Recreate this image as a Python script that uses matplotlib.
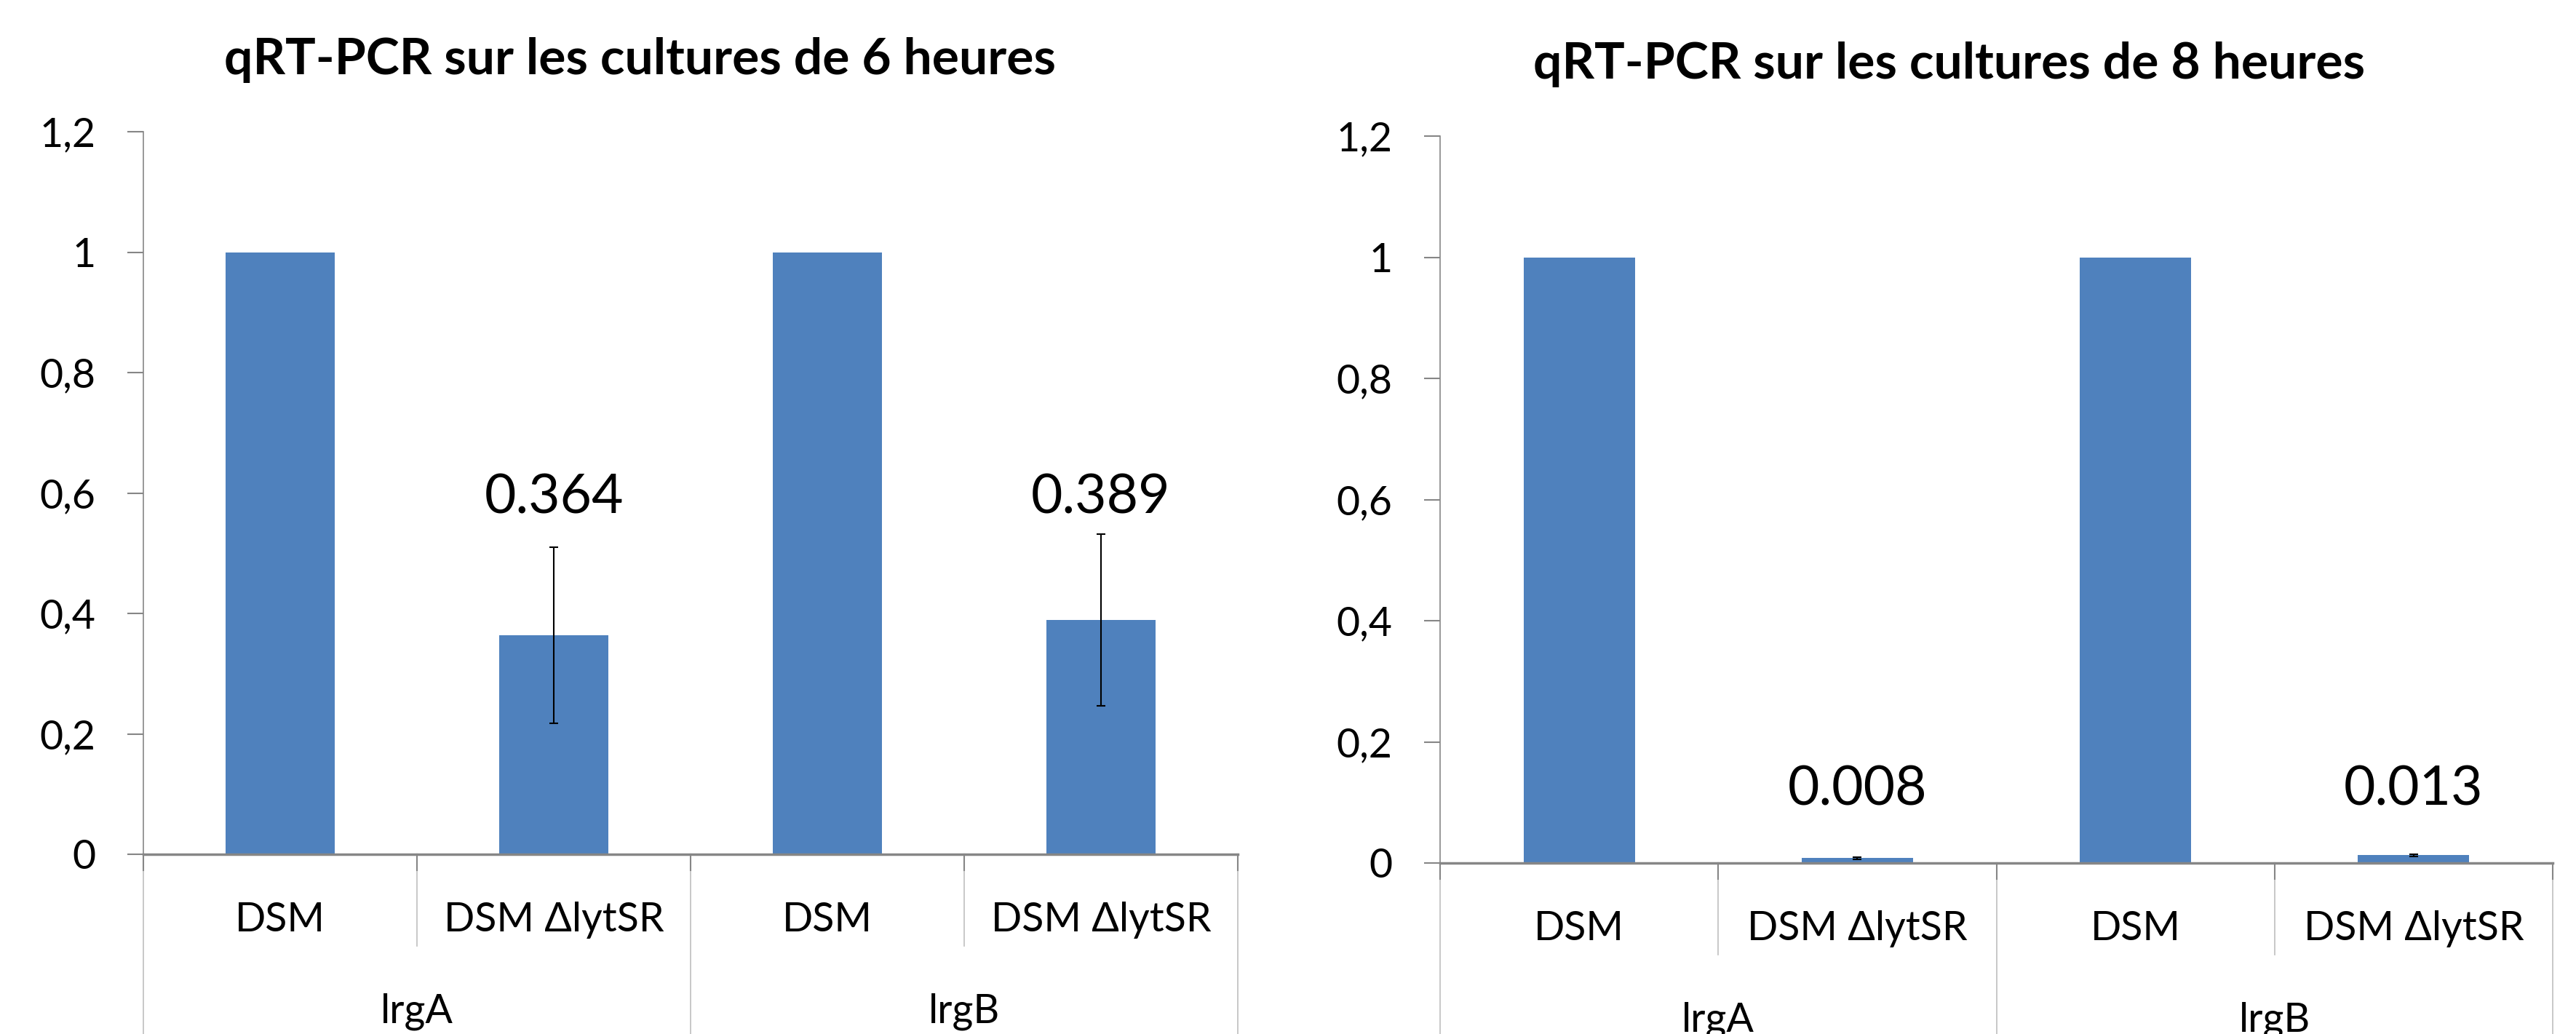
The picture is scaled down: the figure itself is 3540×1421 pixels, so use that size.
import matplotlib
matplotlib.use("Agg")
import matplotlib.pyplot as plt
from matplotlib.ticker import FuncFormatter

# ---- data ----
genes = ["lrgA", "lrgB"]
strains = ["DSM", "DSM ΔlytSR"]
titles = ["qRT-PCR sur les cultures de 6 heures", "qRT-PCR sur les cultures de 8 heures"]
values_6h = [1.0, 0.364, 1.0, 0.389]
errors_6h = [0.0, 0.146, 0.0, 0.143]
labels_6h = ["", "0.364", "", "0.389"]
label_y_6h = 0.566
values_8h = [1.0, 0.008, 1.0, 0.013]
errors_8h = [0.0, 0.002, 0.0, 0.002]
labels_8h = ["", "0.008", "", "0.013"]
label_y_8h = 0.095
yticks = [0, 0.2, 0.4, 0.6, 0.8, 1.0, 1.2]

FONT = ["Lato", "DejaVu Sans"]
plt.rcParams["font.family"] = FONT
BAR = "#4F81BD"
GRID = "#868686"
LIGHT = "#BFBFBF"

W, H = 3540, 1421
fig = plt.figure(figsize=(W / 100, H / 100), dpi=100)

def px_axes(l, r, top, bot):
    return [l / W, 1 - bot / H, (r - l) / W, (bot - top) / H]

panels = [
    (px_axes(197, 1701, 181, 1174), values_6h, errors_6h, labels_6h, label_y_6h, titles[0], (880, 102)),
    (px_axes(1979, 3508, 187, 1186), values_8h, errors_8h, labels_8h, label_y_8h, titles[1], (2679, 108)),
]

fmt = FuncFormatter(lambda v, p: ("%g" % round(v, 1)).replace(".", ","))

for rect, vals, errs, labs, laby, title, tpos in panels:
    ax = fig.add_axes(rect)
    n = len(vals)
    xs = list(range(n))
    ax.bar(xs, vals, width=0.4, color=BAR, zorder=2)
    for x, v, e in zip(xs, vals, errs):
        if e > 0:
            ax.errorbar(x, v, yerr=e, fmt="none", ecolor="black", elinewidth=1.5,
                        capsize=4, capthick=1.5, zorder=3)
    for x, t in zip(xs, labs):
        if t:
            ax.text(x, laby, t, ha="center", va="baseline", fontsize=54, color="black")
    ax.set_xlim(-0.5, n - 0.5)
    ax.set_ylim(0, 1.2)
    ax.set_yticks(yticks)
    ax.yaxis.set_major_formatter(fmt)
    ax.tick_params(axis="y", length=16, width=1.5, color=GRID, pad=31, labelsize=40)
    ax.set_xticks([])
    for s in ["top", "right"]:
        ax.spines[s].set_visible(False)
    ax.spines["left"].set_color(GRID)
    ax.spines["left"].set_linewidth(1.2)
    ax.spines["bottom"].set_color(GRID)
    ax.spines["bottom"].set_linewidth(2.5)
    ax.spines["bottom"].set_zorder(4)

    axh = rect[3] * H
    tr = ax.get_xaxis_transform()
    # category separators
    for i in range(n + 1):
        xb = i - 0.5
        outer = (i % len(strains) == 0)
        ybot = -0.4 if outer else -126 / axh
        ax.plot([xb, xb], [0, ybot], transform=tr, color=LIGHT, lw=1.2, clip_on=False, zorder=1)
        ax.plot([xb, xb], [0, -22 / axh], transform=tr, color=GRID, lw=1.5, clip_on=False, zorder=1)
    # strain labels
    for i in range(n):
        ax.text(i, -106 / axh, strains[i % len(strains)], transform=tr, ha="center",
                va="baseline", fontsize=40, color="black")
    # gene labels
    for g, gene in enumerate(genes):
        xc = g * len(strains) + (len(strains) - 1) / 2
        ax.text(xc, -232 / axh, gene, transform=tr, ha="center", va="baseline",
                fontsize=40, color="black")
    fig.text(tpos[0] / W, 1 - tpos[1] / H, title, ha="center", va="baseline",
             fontsize=50, fontweight="bold", color="black")

fig.savefig("out.png", dpi=100, facecolor="white")
